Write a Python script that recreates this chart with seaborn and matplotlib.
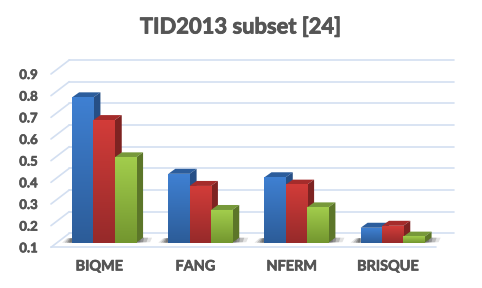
import numpy as np
import pandas as pd
import matplotlib
matplotlib.use('Agg')
import matplotlib.pyplot as plt
import matplotlib.patheffects as pe
import seaborn as sns
from matplotlib.patches import Polygon
from matplotlib.transforms import Affine2D, IdentityTransform

methods = ['BIQME', 'FANG', 'NFERM', 'BRISQUE']
series_names = ['A', 'B', 'C']
blue_vals = [0.771, 0.418, 0.402, 0.169]
red_vals = [0.666, 0.362, 0.368, 0.178]
green_vals = [0.494, 0.251, 0.263, 0.128]
y_ticks = [0.1, 0.2, 0.3, 0.4, 0.5, 0.6, 0.7, 0.8, 0.9]

# front gradient top/bottom, then top face and side face
front_top = ['#3F80D2', '#D23C39', '#A2CD4C']
front_bottom = ['#2C5C98', '#962A2A', '#73962F']
top_face = ['#2C5D9C', '#A52C2B', '#77993A']
side_face = ['#264F86', '#7E2322', '#5C7629']

df = pd.DataFrame({
    'method': methods * 3,
    'series': np.repeat(series_names, 4),
    'score': blue_vals + red_vals + green_vals,
})

sns.set_theme(style='white')
plt.rcParams['font.family'] = ['Lato', 'DejaVu Sans']
text_col = '#555555'
grid_col = '#D3DFF1'
# Lato bold is lighter than the original face, thicken it a bit
thick = [pe.withStroke(linewidth=0.45, foreground=text_col)]

W, H = 482, 288
fig = plt.figure(figsize=(W / 100, H / 100), dpi=100)

def px_axes(x0, y_bottom, w, h):
    return fig.add_axes([x0 / W, (H - y_bottom) / H, w / W, h / H])

# plane of the axis labels and the front floor edge
ax = px_axes(51, 247.3, 384.7, 173.3)
ax.set_xlim(-0.5, 3.5)
ax.set_ylim(0.1, 0.9)
ax.set_xticks(range(4))
ax.set_xticklabels(methods, fontsize=10.4, fontweight='bold', color=text_col, path_effects=thick)
ax.set_yticks(y_ticks)
ax.set_yticklabels([f'{v:.1f}' for v in y_ticks], fontsize=9.5, fontweight='bold',
                   color=text_col, path_effects=thick)
ax.tick_params(axis='x', length=0, pad=9.5)
ax.tick_params(axis='y', length=0, pad=9.5)
sns.despine(ax=ax, left=True, bottom=True)

wall = ax.transData + Affine2D().translate(18.3, 14)
for v in y_ticks:
    ax.plot([-0.5, 3.5], [v, v], transform=wall, color=grid_col, lw=1.2, clip_on=False)
    x0, y0 = ax.transData.transform((-0.5, v))
    ax.plot([x0, x0 + 18.3], [y0, y0 + 14], transform=IdentityTransform(),
            color=grid_col, lw=1.2, clip_on=False)
ax.plot([-0.5, 3.5], [0.1, 0.1], color=grid_col, lw=1.2, clip_on=False)

# plane of the bars, set back a little from the front edge
bar_ax = px_axes(56, 242.7, 384.7, 173.3)
bar_ax.patch.set_alpha(0)
sns.barplot(data=df, x='method', y='score', hue='series', hue_order=series_names,
            order=methods, width=0.665, gap=0, legend=False, ax=bar_ax)
bar_ax.set_xlim(-0.5, 3.5)
bar_ax.set_ylim(0.1, 0.9)
bar_ax.axis('off')

dx, dy = 7, 5
patches = list(bar_ax.patches)

# soft shadow on the floor on both sides of each group
for g in range(4):
    left = patches[g].get_x()
    right = patches[8 + g].get_x() + patches[8 + g].get_width()
    xl, yb = bar_ax.transData.transform((left, 0.1))
    xr, _ = bar_ax.transData.transform((right, 0.1))
    for grow, alpha in [(1.0, 0.15), (0.75, 0.25), (0.5, 0.35), (0.3, 0.35)]:
        pts = [(xr, yb), (xr + 14 * grow, yb + 0.5), (xr + 16 * grow, yb + 5), (xr, yb + 5)]
        bar_ax.add_patch(Polygon(pts, closed=True, transform=IdentityTransform(),
                                 fc='#444444', ec='none', alpha=alpha, clip_on=False, zorder=1))
        pts = [(xl, yb), (xl - 10 * grow, yb), (xl - 5 * grow, yb + 4.5), (xl, yb + 4.5)]
        bar_ax.add_patch(Polygon(pts, closed=True, transform=IdentityTransform(),
                                 fc='#444444', ec='none', alpha=alpha, clip_on=False, zorder=1))

for s in range(3):
    c0 = np.array(matplotlib.colors.to_rgb(front_top[s]))
    c1 = np.array(matplotlib.colors.to_rgb(front_bottom[s]))
    t = np.linspace(0, 1, 64)[:, None, None]
    grad = c0[None, None, :] * (1 - t) + c1[None, None, :] * t
    for g in range(4):
        p = patches[s * 4 + g]
        x, w, h = p.get_x(), p.get_width(), p.get_height()
        (x0, y0), (x1, y1) = bar_ax.transData.transform([(x, 0.1), (x + w, h)])
        z = 2 + s
        top = [(x0, y1), (x1, y1), (x1 + dx, y1 + dy), (x0 + dx, y1 + dy)]
        side = [(x1, y0), (x1 + dx, y0 + dy), (x1 + dx, y1 + dy), (x1, y1)]
        bar_ax.add_patch(Polygon(top, closed=True, transform=IdentityTransform(),
                                 fc=top_face[s], ec='none', clip_on=False, zorder=z))
        bar_ax.add_patch(Polygon(side, closed=True, transform=IdentityTransform(),
                                 fc=side_face[s], ec='none', clip_on=False, zorder=z))
        bar_ax.imshow(grad, extent=(x, x + w, 0.1, h), aspect='auto', origin='upper', zorder=z + 0.5)
        p.set_visible(False)
bar_ax.set_xlim(-0.5, 3.5)
bar_ax.set_ylim(0.1, 0.9)

fig.text(241 / W, 1 - 27 / H, 'TID2013 subset [24]', ha='center', va='center',
         fontsize=15.8, fontweight='bold', color=text_col,
         path_effects=[pe.withStroke(linewidth=0.6, foreground=text_col)])

fig.savefig('out.png', dpi=100, facecolor='white')
